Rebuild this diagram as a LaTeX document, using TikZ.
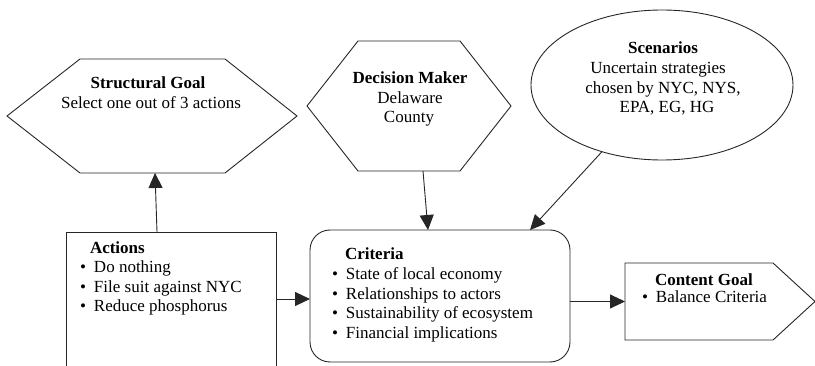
\documentclass[tikz,border=0pt]{standalone}
\usepackage{fontspec}
\setmainfont{Liberation Serif}
\usetikzlibrary{arrows.meta,shapes.geometric}
\newcommand\fsz{\fontsize{17}{19.5}\selectfont}
\newcommand\bul{\makebox[14pt][l]{\textbullet}}
\tikzset{
  shapebox/.style={inner sep=0pt, outer sep=0pt, draw=none},
  line/.style={line width=0.9pt, draw=black!85},
  arr/.style={line, -{Triangle[length=15pt,width=14pt]}},
  txt/.style={inner sep=0pt, outer sep=0pt, font=\fsz},
  bc/.style={txt, anchor=base},
  bw/.style={txt, anchor=base west},
}
\begin{document}
\begin{tikzpicture}[x=1pt,y=-1pt]
\useasboundingbox (0,0) rectangle (815,366);

% Structural goal hexagon
\node[shapebox, minimum width=290pt, minimum height=114pt] (sg) at (152,116) {};
\draw[line] (sg.west) -- ([xshift=73pt]sg.north west) -- ([xshift=-72pt]sg.north east)
  -- (sg.east) -- ([xshift=-72pt]sg.south east) -- ([xshift=73pt]sg.south west) -- cycle;
\node[bc] (sg1) at (148,89) {\bfseries Structural Goal};
\node[bc] (sg2) at (151,109) {Select one out of 3 actions};

% Decision maker hexagon
\node[shapebox, minimum width=204pt, minimum height=130pt] (dm) at (409,106) {};
\draw[line] (dm.west) -- ([xshift=51pt]dm.north west) -- ([xshift=-51pt]dm.north east)
  -- (dm.east) -- ([xshift=-51pt]dm.south east) -- ([xshift=51pt]dm.south west) -- cycle;
\node[bc] (dm1) at (410,84) {\bfseries Decision Maker};
\node[bc] (dm2) at (410,103.5) {Delaware};
\node[bc] (dm3) at (409,123) {County};

% Scenarios ellipse
\node[shapebox, ellipse, line, draw, minimum width=262pt, minimum height=150pt] (sc) at (662,85) {};
\node[bc] (sc1) at (663,54) {\bfseries Scenarios};
\node[bc] (sc2) at (658,74) {Uncertain strategies};
\node[bc] (sc3) at (663,94) {chosen by NYC, NYS,};
\node[bc] (sc4) at (667,113) {EPA, EG, HG};

% Actions box (open at the bottom)
\node[shapebox, minimum width=210pt, minimum height=134pt] (act) at (171,299) {};
\draw[line] (act.south west) -- (act.north west) -- (act.north east) -- (act.south east);
\node[bw] (ac0) at (90,254) {\bfseries Actions};
\node[bw] (ac1) at (80,273) {\bul Do nothing};
\node[bw] (ac2) at (80,292.5) {\bul File suit against NYC};
\node[bw] (ac3) at (80,312) {\bul Reduce phosphorus};

% Criteria box
\node[shapebox, line, draw, rounded corners=20pt, minimum width=260pt, minimum height=132pt] (cr) at (440,296) {};
\node[bw] (cr0) at (345,260) {\bfseries Criteria};
\node[bw] (cr1) at (332,280) {\bul State of local economy};
\node[bw] (cr2) at (332,299.5) {\bul Relationships to actors};
\node[bw] (cr3) at (332,319) {\bul Sustainability of ecosystem};
\node[bw] (cr4) at (332,338.5) {\bul Financial implications};

% Content goal pentagon
\node[shapebox, minimum width=190pt, minimum height=77pt] (cg) at (720,301.5) {};
\draw[line] (cg.south west) -- (cg.north west) -- ([xshift=-42pt]cg.north east)
  -- (cg.east) -- ([xshift=-42pt]cg.south east) -- cycle;
\node[bw] (cg0) at (655,286) {\bfseries Content Goal};
\node[bw] (cg1) at (642,302.5) {\bul Balance Criteria};

% Connectors
\draw[arr] ([xshift=-14pt]act.north) -- ([xshift=3pt]sg.south);
\draw[arr] ([xshift=14pt]dm.south) -- ([xshift=-12pt]cr.north);
\draw[arr] (sc.228) -- ([xshift=90pt]cr.north);
\draw[arr] (act.east) -- (cr.west |- act.east);
\draw[arr] (cr.east |- cg.west) -- (cg.west);
\end{tikzpicture}
\end{document}
